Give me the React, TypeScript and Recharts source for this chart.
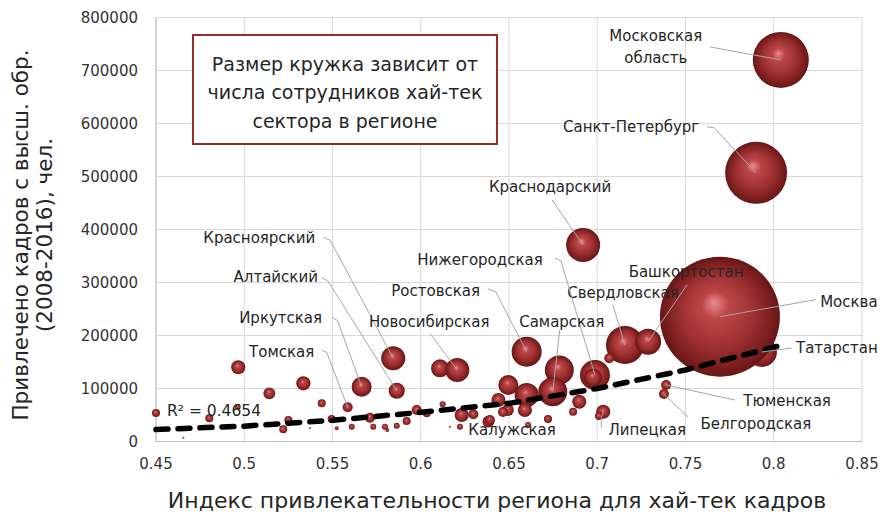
import React from 'react';
import { ScatterChart, Scatter, XAxis, YAxis, ZAxis, CartesianGrid } from 'recharts';

// ---- data ----
const regionNames = [
  'Московская область', 'Санкт-Петербург', 'Краснодарский', 'Татарстан', 'Москва',
  'Свердловская', 'Башкортостан', '', 'Нижегородская', '',
  '', 'Самарская', 'Ростовская', '', '',
  '', '', '', '', '',
  'Липецкая', '', '', 'Калужская', '',
  'Тюменская', 'Белгородская', 'Красноярский', 'Алтайский', '',
  'Новосибирская', 'Иркутская', 'Томская', '', '',
  '', '', '', '', '',
  '', '', '', '', '',
  '', '', '', '', '',
  '', '', '', '', '',
  '', '', '', '', '',
  '', '',
];
const attractIndex = [
  0.804, 0.790, 0.692, 0.7933, 0.7695,
  0.7157, 0.7288, 0.7068, 0.6987, 0.6976,
  0.6785, 0.6748, 0.660, 0.6496, 0.660,
  0.644, 0.6494, 0.659, 0.6466, 0.6898,
  0.7034, 0.6863, 0.701, 0.6721, 0.6608,
  0.739, 0.7378, 0.5844, 0.5864, 0.6109,
  0.6207, 0.5665, 0.5586, 0.4966, 0.5335,
  0.5142, 0.5439, 0.4963, 0.4802, 0.45,
  0.525, 0.5221, 0.5495, 0.5524, 0.5609,
  0.5712, 0.5731, 0.5797, 0.5864, 0.592,
  0.581, 0.5977, 0.6034, 0.6124, 0.6166,
  0.6222, 0.6232, 0.6298, 0.5372, 0.4655,
  0.49, 0.6383, 0.6392,
];
const attractedStaff = [
  720000, 507000, 370700, 168900, 235500,
  182000, 188300, 157000, 125500, 120700,
  135000, 94000, 169400, 106600, 87700,
  78300, 59400, 59400, 55600, 75100,
  56200, 56200, 48100, 42500, 31100,
  106600, 89600, 157000, 95800, 138100,
  134900, 103400, 64500, 140000, 109800,
  90900, 72100, 65700, 43800, 53800,
  40600, 23000, 42500, 24900, 27900,
  44900, 27900, 27900, 29800, 38700,
  21700, 59400, 53200, 70200, 27900,
  27900, 50000, 51300, 25500, 7200,
  25500, 37400, 40600,
];
const hiTechStaff = [
  157, 192, 58, 45, 720,
  72, 34, 5, 45, 16,
  42, 42, 45, 20, 29,
  10, 7, 10, 5, 10,
  10, 3.2, 3.2, 3.2, 1.8,
  5, 5, 29, 13, 16,
  29, 20, 5, 10, 10,
  7, 3.2, 1.8, 3.2, 3.2,
  3.2, 3.2, 3.2, 0.8, 1.8,
  5, 1.8, 1.8, 1.8, 3.2,
  0.8, 5, 3.2, 1.8, 0.2,
  1.8, 10, 5, 0.2, 0.2,
  0.2, 7, 5,
];
const trendIndex = [0.45, 0.5, 0.55, 0.6, 0.65, 0.7, 0.75, 0.805];
const trendValue = [22600, 29000, 40000, 55000, 72000, 100000, 135000, 182000];
const xTicks = [0.45, 0.5, 0.55, 0.6, 0.65, 0.7, 0.75, 0.8, 0.85];
const yTicks = [0, 100000, 200000, 300000, 400000, 500000, 600000, 700000, 800000];
const rSquaredText = 'R² = 0.4654';
const noteLines = ['Размер кружка зависит от', 'числа сотрудников хай-тек', 'сектора в регионе'];
const xTitle = 'Индекс привлекательности региона для хай-тек кадров';
const yTitleLines = ['Привлечено кадров с высш. обр.', '(2008-2016), чел.'];

const bubbles = attractIndex.map((x, i) => ({ x, y: attractedStaff[i], z: hiTechStaff[i], name: regionNames[i] }));
const labeled = bubbles.filter((b) => b.name);
const trend = trendIndex.map((x, i) => ({ x, y: trendValue[i] }));

// ---- label layout (offsets from the bubble centre, px) ----
type Lay = { tx: number; ty: number; lx?: number; ly?: number; ex?: number; ey?: number; lines?: string[] };
const labelLayout: Record<string, Lay> = {
  'Московская область': { tx: -125, ty: -24, lx: -71, ly: -13, lines: ['Московская', 'область'] },
  'Санкт-Петербург': { tx: -125, ty: -46, lx: -49, ly: -46, ex: -42, ey: -45 },
  'Краснодарский': { tx: -33, ty: -58, lx: -31, ly: -45 },
  'Нижегородская': { tx: -115, ty: -115, lx: -40, ly: -117, ex: -34, ey: -114 },
  'Красноярский': { tx: -134, ty: -121, lx: -70, ly: -121, ex: -63, ey: -118 },
  'Алтайский': { tx: -121, ty: -114, lx: -75, ly: -113, ex: -69, ey: -110 },
  'Иркутская': { tx: -81, ty: -69, lx: -29, ly: -69, ex: -24, ey: -66 },
  'Томская': { tx: -66, ty: -56, lx: -26, ly: -57, ex: -21, ey: -55 },
  'Новосибирская': { tx: -28, ty: -48, lx: -27, ly: -36 },
  'Ростовская': { tx: -91, ty: -61, lx: -39, ly: -63, ex: -31, ey: -60 },
  'Самарская': { tx: 9, ty: -70, lx: 7, ly: -62 },
  'Свердловская': { tx: -2, ty: -52, lx: -12, ly: -40 },
  'Башкортостан': { tx: 38, ty: -70, lx: 39, ly: -57 },
  'Москва': { tx: 129, ty: -15, lx: 96, ly: -17, ex: 90, ey: -16 },
  'Татарстан': { tx: 75, ty: -4, lx: 30, ly: -4 },
  'Тюменская': { tx: 121, ty: 16, lx: 69, ly: 15 },
  'Белгородская': { tx: 92, ty: 30, lx: 24, ly: 23 },
  'Липецкая': { tx: 44, ty: 18, lx: -2, ly: 16, ex: -2, ey: 6 },
  'Калужская': { tx: -36, ty: 11 },
};

const FONT = '"DejaVu Sans", sans-serif';

const Bubble = (props: any) => {
  const { cx, cy, width, size } = props;
  let r = width ? width / 2 : Math.sqrt((size || 0) / Math.PI);
  if (!isFinite(r) || r <= 0) r = 1;
  return <circle cx={cx} cy={cy} r={r} fill="url(#sphere)" />;
};

const NoShape = () => <g />;

const RegionLabel = (props: any) => {
  const { cx, cy, payload } = props;
  const L = labelLayout[payload?.name];
  if (!L) return <g />;
  const pts: number[][] = [];
  if (L.lx !== undefined && L.ly !== undefined) {
    pts.push([cx + L.lx, cy + L.ly]);
    if (L.ex !== undefined && L.ey !== undefined) pts.push([cx + L.ex, cy + L.ey]);
    pts.push([cx, cy]);
  }
  const lines = L.lines || [payload.name];
  return (
    <g>
      {pts.length > 0 && (
        <polyline points={pts.map((p) => p.join(',')).join(' ')} fill="none" stroke="#a6a6a6" strokeWidth={1} />
      )}
      {lines.map((t, i) => (
        <text key={i} x={cx + L.tx} y={cy + L.ty + i * 22} dy="0.35em" textAnchor="middle"
          fontFamily={FONT} fontSize={15} fill="#262626">{t}</text>
      ))}
    </g>
  );
};

export default function App() {
  return (
    <div style={{ position: 'relative', width: 880, height: 511, fontFamily: FONT }}>
      <svg width={0} height={0} style={{ position: 'absolute' }}>
        <defs>
          <radialGradient id="sphere" cx="50%" cy="50%" r="50%" fx="45%" fy="38%">
            <stop offset="0%" stopColor="#ea8f90" />
            <stop offset="22%" stopColor="#bd4748" />
            <stop offset="60%" stopColor="#9e3031" />
            <stop offset="88%" stopColor="#7a1d1e" />
            <stop offset="100%" stopColor="#661617" />
          </radialGradient>
        </defs>
      </svg>
      <ScatterChart width={880} height={511} margin={{ top: 9.5, right: 26, bottom: 37.5, left: 48 }}>
        <CartesianGrid stroke="#d9d9d9" />
        <XAxis type="number" dataKey="x" domain={[0.45, 0.85]} ticks={xTicks}
          tickFormatter={(v: number) => String(v)} height={40} stroke="#bfbfbf" tickLine={false}
          tickMargin={11} tick={{ fill: '#333', fontSize: 15, fontFamily: FONT }} />
        <YAxis type="number" dataKey="y" domain={[0, 800000]} ticks={yTicks}
          width={100} stroke="#bfbfbf" tickLine={false} tickMargin={12}
          tick={{ fill: '#333', fontSize: 15, fontFamily: FONT }} />
        <ZAxis type="number" dataKey="z" domain={[0, 720]} range={[0, 11310]} />
        <Scatter data={bubbles} shape={Bubble} isAnimationActive={false} />
        <Scatter data={trend} shape={NoShape} lineType="joint" isAnimationActive={false}
          line={{ stroke: '#000', strokeWidth: 5.5, strokeDasharray: '12 10', strokeLinecap: 'round' }} />
        <Scatter data={labeled} shape={RegionLabel} isAnimationActive={false} />
      </ScatterChart>
      <svg width={880} height={511} style={{ position: 'absolute', left: 0, top: 0, pointerEvents: 'none' }}>
        {yTitleLines.map((t, i) => (
          <text key={i} transform={`translate(${12 + i * 24},227) rotate(-90)`} textAnchor="middle" dy="0.35em"
            fontFamily={FONT} fontSize={21.5} fill="#262626">{t}</text>
        ))}
        <text x={489} y={492} textAnchor="middle" dy="0.35em" fontFamily={FONT} fontSize={22} fill="#262626">{xTitle}</text>
        <rect x={185} y={27} width={304} height={109} fill="#fff" stroke="#9b2c2c" strokeWidth={2} />
        {noteLines.map((t, i) => (
          <text key={i} x={337} y={56 + i * 28.5} textAnchor="middle" dy="0.35em" fontFamily={FONT} fontSize={19} fill="#262626">{t}</text>
        ))}
        <text x={159} y={403} dy="0.35em" fontFamily={FONT} fontSize={15.5} fill="#262626">{rSquaredText}</text>
      </svg>
    </div>
  );
}
